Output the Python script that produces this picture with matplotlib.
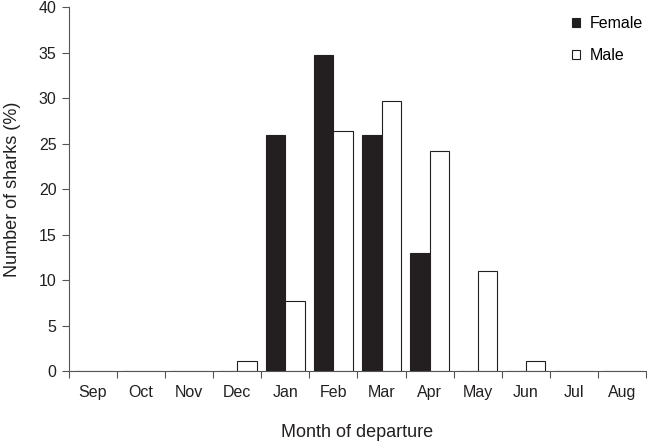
import numpy as np
import matplotlib.pyplot as plt
from matplotlib.ticker import FixedLocator

plt.rcParams['font.family'] = ['Liberation Sans', 'DejaVu Sans']

months = ['Sep', 'Oct', 'Nov', 'Dec', 'Jan', 'Feb', 'Mar', 'Apr', 'May', 'Jun', 'Jul', 'Aug']
female = [0, 0, 0, 0, 26.0, 34.8, 26.0, 13.0, 0, 0, 0, 0]
male = [0, 0, 0, 1.1, 7.7, 26.4, 29.7, 24.2, 11.0, 1.1, 0, 0]

x = np.arange(len(months))
w = 0.4

fig = plt.figure(figsize=(6.47, 4.42), dpi=100)
ax = fig.add_axes([0.1066, 0.16, 0.8919, 0.8235])

ax.bar(x - w / 2, female, w, color='#231f20', edgecolor='#231f20', linewidth=0.8, label='Female')
ax.bar(x + w / 2, male, w, color='white', edgecolor='#231f20', linewidth=0.8, label='Male')

ax.set_xlim(-0.5, len(months) - 0.5)
ax.set_ylim(0, 40)
ax.set_yticks(np.arange(0, 41, 5))
ax.set_xticks(x)
ax.set_xticklabels(months)
ax.xaxis.set_minor_locator(FixedLocator(np.arange(-0.5, len(months), 1)))
ax.tick_params(axis='x', which='major', length=0, pad=10, labelsize=11.5, colors='#231f20')
ax.tick_params(axis='x', which='minor', length=5, width=0.8, color='#555555', direction='out')
ax.tick_params(axis='y', length=5, width=0.8, color='#555555', labelsize=11.5, labelcolor='#231f20', pad=4)

for s in ['top', 'right']:
    ax.spines[s].set_visible(False)
for s in ['left', 'bottom']:
    ax.spines[s].set_color('#555555')
    ax.spines[s].set_linewidth(0.8)

ax.set_xlabel('Month of departure', fontsize=13, labelpad=17, color='#231f20')
ax.set_ylabel('Number of sharks (%)', fontsize=13, labelpad=13, color='#231f20')

ax.legend(loc='upper right', bbox_to_anchor=(1.0, 0.984), frameon=False, fontsize=11.5,
          handlelength=0.5, handleheight=0.5, handletextpad=0.6, labelspacing=1.05,
          borderaxespad=0.0, borderpad=0.2)

plt.savefig('out.png', dpi=100)
